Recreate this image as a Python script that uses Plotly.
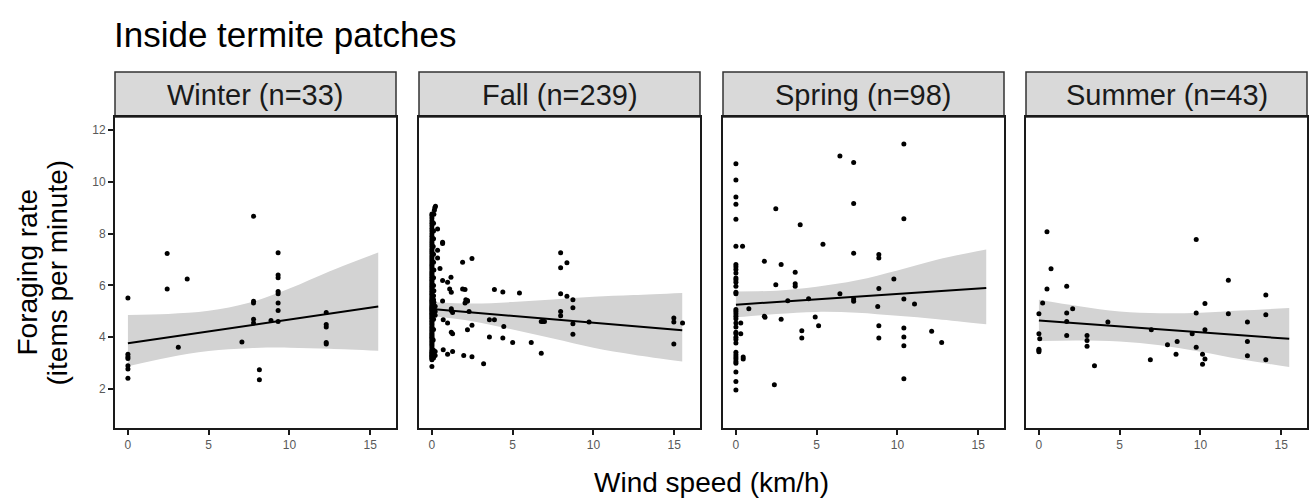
import plotly.graph_objects as go

# ---------------- data ----------------
panels = ["Winter (n=33)", "Fall (n=239)", "Spring (n=98)", "Summer (n=43)"]
title_text = "Inside termite patches"
x_title = "Wind speed (km/h)"
y_title_lines = ["Foraging rate", "(items per minute)"]
x_ticks = [0, 5, 10, 15]
y_ticks = [2, 4, 6, 8, 10, 12]

winter_pts = [(0, 5.52), (0, 3.35), (0, 3.25), (0, 3.18), (0, 2.9), (0, 2.78), (0, 2.42),
              (2.43, 7.23), (2.43, 5.86), (3.12, 3.62), (3.67, 6.25), (7.06, 3.82),
              (7.78, 8.67), (7.78, 5.39), (7.78, 5.32), (7.78, 4.70), (7.78, 4.55),
              (8.14, 2.75), (8.14, 2.36), (8.86, 4.65), (9.3, 7.26), (9.3, 6.4), (9.3, 6.3),
              (9.3, 5.77), (9.3, 5.68), (9.3, 5.32), (9.3, 5.03), (9.3, 4.61),
              (12.28, 4.96), (12.28, 4.49), (12.28, 4.4), (12.28, 3.8), (12.28, 3.74)]

fall_zero_y = [2.87, 3.13, 3.18, 3.22, 3.27, 3.3, 3.34, 3.38, 3.42, 3.47, 3.52, 3.6, 3.66,
               3.72, 3.78, 3.84, 3.9, 3.95, 4.0, 4.05, 4.1, 4.15, 4.2, 4.26, 4.32, 4.38,
               4.44, 4.5, 4.56, 4.62, 4.68, 4.73, 4.78, 4.83, 4.88, 4.93, 4.98, 5.02,
               5.06, 5.1, 5.14, 5.18, 5.23, 5.28, 5.33, 5.38, 5.43, 5.48, 5.54, 5.6,
               5.66, 5.72, 5.78, 5.84, 5.9, 5.96, 6.02, 6.08, 6.14, 6.2, 6.26, 6.32,
               6.38, 6.44, 6.5, 6.57, 6.64, 6.71, 6.78, 6.85, 6.92, 7.0, 7.08, 7.16,
               7.24, 7.32, 7.4, 7.48, 7.56, 7.64, 7.72, 7.8, 7.9, 8.0, 8.1, 8.2, 8.3,
               8.4, 8.5, 8.6, 8.7, 8.76]
fall_near_zero = [(0.1, 3.2), (0.1, 3.3), (0.12, 3.4), (0.1, 3.5), (0.08, 3.9), (0.1, 4.3),
                  (0.1, 4.7), (0.12, 4.95), (0.1, 5.05), (0.15, 5.15), (0.1, 5.25),
                  (0.12, 5.35), (0.1, 5.45), (0.1, 5.6), (0.12, 5.8), (0.1, 6.0),
                  (0.1, 6.3), (0.12, 6.6), (0.1, 6.9), (0.1, 7.2), (0.08, 7.5), (0.1, 7.8),
                  (0.1, 8.1), (0.1, 8.4), (0.12, 8.75), (0.15, 8.9), (0.18, 9.0),
                  (0.22, 9.06), (0.2, 3.3), (0.2, 3.45), (0.2, 5.0), (0.2, 5.2), (0.2, 4.85)]
fall_pts = [(0.35, 8.18), (0.66, 7.67), (0.66, 7.62), (0.35, 7.36), (0.35, 7.06), (0.5, 6.65),
            (0.66, 6.19), (0.97, 6.12), (1.18, 6.32), (1.1, 5.86), (1.2, 5.74), (0.66, 5.4),
            (1.2, 5.1), (1.2, 5.03), (1.28, 4.96), (0.7, 4.68), (0.97, 4.55), (1.2, 4.19),
            (1.28, 4.14), (0.7, 3.52), (0.97, 3.35), (1.28, 3.45), (1.9, 6.9), (2.48, 7.04),
            (1.9, 5.86), (2.05, 5.84), (2.1, 5.45), (2.2, 5.39), (2.05, 5.32), (2.2, 5.42),
            (2.3, 5.0), (2.2, 4.29), (2.48, 4.46), (1.97, 3.3), (2.48, 3.25), (3.2, 2.98),
            (3.56, 4.68), (3.87, 4.68), (3.87, 5.84), (4.39, 5.75), (4.45, 4.42), (3.56, 4.01),
            (4.39, 3.97), (5.0, 3.8), (5.42, 5.71), (6.15, 3.8), (6.77, 4.61), (6.87, 4.61),
            (6.97, 4.61), (6.77, 3.38), (7.97, 7.26), (7.97, 6.68), (8.36, 6.88), (7.97, 5.68),
            (8.36, 5.58), (8.73, 5.45), (8.73, 5.14), (7.97, 5.0), (7.97, 4.83), (8.73, 4.52),
            (8.73, 4.12), (9.73, 4.59), (14.98, 4.74), (14.98, 4.59), (15.52, 4.55),
            (14.98, 3.74)]

spring_pts = [(0, 10.7), (0, 10.07), (0, 9.41), (0, 9.13), (0, 8.55), (0, 7.51), (0.41, 7.51),
              (0, 6.81), (0, 6.72), (0, 6.62), (0, 6.48), (0, 6.29), (0, 6.22), (0, 6.12),
              (0, 5.97), (0, 5.74), (0, 5.68), (0, 5.07), (0, 5.0), (0, 4.91), (0, 4.81),
              (0, 4.72), (0, 4.55), (0.3, 4.55), (0, 4.4), (0, 4.19), (0, 4.14), (0.3, 4.14),
              (0, 4.0), (0, 3.91), (0, 3.78), (0, 3.42), (0, 3.33), (0, 3.24), (0.45, 3.24),
              (0, 3.16), (0.45, 3.16), (0, 3.07), (0, 3.0), (0, 2.66), (0, 2.29), (0, 1.97),
              (0.8, 5.1), (1.76, 6.93), (1.76, 4.81), (1.8, 4.77), (2.47, 8.96), (2.47, 6.03),
              (2.38, 2.17), (2.8, 6.81), (2.8, 4.70), (3.21, 5.41), (3.67, 6.51), (3.67, 6.07),
              (3.67, 5.97), (3.98, 8.34), (4.08, 4.25), (4.08, 3.97), (4.5, 5.49), (4.91, 4.78),
              (5.12, 4.45), (5.39, 7.59), (6.44, 11.0), (6.44, 5.68), (7.29, 10.74),
              (7.29, 9.16), (7.29, 7.24), (7.29, 5.48), (7.29, 5.39), (8.85, 7.19),
              (8.85, 7.06), (8.85, 5.88), (8.78, 5.19), (8.85, 4.45), (8.85, 3.97),
              (9.78, 6.25), (10.4, 11.46), (10.4, 8.57), (10.4, 5.48), (10.4, 4.36),
              (10.4, 4.01), (10.4, 3.67), (10.4, 2.4), (11.06, 5.28), (12.12, 4.23),
              (12.74, 3.8)]

summer_pts = [(0.5, 8.07), (0.75, 6.64), (0.5, 5.86), (0.23, 5.32), (0, 4.91), (0, 4.14),
              (0.05, 3.94), (0, 3.54), (0, 3.49), (0, 3.44), (1.72, 5.97), (1.72, 4.94),
              (1.72, 4.61), (1.72, 4.07), (2.09, 5.1), (2.98, 4.07), (2.98, 3.88), (2.98, 3.65),
              (3.44, 2.9), (4.27, 4.59), (6.96, 4.29), (6.9, 3.13), (7.96, 3.71), (8.56, 3.84),
              (8.49, 3.35), (9.49, 4.14), (9.74, 7.77), (9.74, 4.94), (9.74, 3.62),
              (10.13, 3.35), (10.28, 3.16), (10.13, 2.96), (10.28, 5.3), (10.28, 4.29),
              (11.73, 6.2), (11.73, 4.91), (12.91, 4.59), (12.91, 3.84), (12.91, 3.29),
              (14.05, 5.63), (14.05, 4.87), (14.05, 3.13)]

# fitted lines and 95% bands at these wind speeds
fit_x = [0, 2.5, 5, 7.5, 10, 12.5, 15.5]
winter_fit = [3.77, 4.0, 4.23, 4.45, 4.68, 4.91, 5.19]
winter_hi = [4.86, 4.9, 5.02, 5.33, 5.88, 6.55, 7.27]
winter_lo = [2.88, 3.22, 3.47, 3.58, 3.6, 3.56, 3.48]
fall_fit = [5.09, 4.96, 4.83, 4.69, 4.56, 4.43, 4.27]
fall_hi = [5.36, 5.3, 5.36, 5.46, 5.56, 5.63, 5.71]
fall_lo = [4.82, 4.62, 4.3, 3.95, 3.6, 3.33, 3.07]
spring_fit = [5.26, 5.36, 5.47, 5.57, 5.67, 5.78, 5.9]
spring_hi = [5.77, 5.8, 5.95, 6.2, 6.58, 7.0, 7.39]
spring_lo = [4.77, 4.9, 4.98, 4.95, 4.83, 4.7, 4.5]
summer_fit = [4.65, 4.54, 4.42, 4.31, 4.19, 4.08, 3.94]
summer_hi = [5.45, 5.2, 5.0, 4.93, 4.95, 5.03, 5.13]
summer_lo = [3.86, 3.88, 3.84, 3.69, 3.44, 3.15, 2.85]

# ---------------- figure ----------------
W, H = 1314, 499
FONT = "Liberation Sans, Arial, Helvetica, sans-serif"

fall_all = [(0, y) for y in fall_zero_y] + fall_near_zero + fall_pts
series = [
    (winter_pts, winter_fit, winter_lo, winter_hi),
    (fall_all, fall_fit, fall_lo, fall_hi),
    (spring_pts, spring_fit, spring_lo, spring_hi),
    (summer_pts, summer_fit, summer_lo, summer_hi),
]

# panel pixel extents
px_left = [115, 419, 723, 1026]
px_width = 281
py_top, py_bottom = 117, 428
strip_top = 72

fig = go.Figure()
for i, (pts, fit, lo, hi) in enumerate(series):
    k = "" if i == 0 else str(i + 1)
    xa, ya = "x" + k, "y" + k
    fig.add_trace(go.Scatter(x=fit_x, y=hi, xaxis=xa, yaxis=ya, mode="lines",
                             line=dict(width=0, shape="spline"), hoverinfo="skip",
                             showlegend=False))
    fig.add_trace(go.Scatter(x=fit_x, y=lo, xaxis=xa, yaxis=ya, mode="lines",
                             line=dict(width=0, shape="spline"), fill="tonexty",
                             fillcolor="rgb(211,211,211)", hoverinfo="skip", showlegend=False))
    xs = [p[0] for p in pts]
    ys = [p[1] for p in pts]
    fig.add_trace(go.Scatter(x=xs, y=ys, xaxis=xa, yaxis=ya, mode="markers",
                             marker=dict(color="black", size=5), showlegend=False))
    fig.add_trace(go.Scatter(x=fit_x, y=fit, xaxis=xa, yaxis=ya, mode="lines",
                             line=dict(color="black", width=2), showlegend=False))

    d0 = px_left[i] / W
    d1 = (px_left[i] + px_width) / W
    fig.layout["xaxis" + k] = dict(
        domain=[d0, d1], range=[-0.8, 16.6], anchor=ya, tickvals=x_ticks,
        ticks="outside", ticklen=5, tickwidth=2, tickcolor="#1a1a1a",
        showline=True, mirror=True, linecolor="#1a1a1a", linewidth=2,
        showgrid=False, zeroline=False,
        tickfont=dict(size=12, color="#595959", family=FONT))
    fig.layout["yaxis" + k] = dict(
        domain=[1 - py_bottom / H, 1 - py_top / H], range=[0.5, 12.5], anchor=xa,
        tickvals=y_ticks, ticks="outside" if i == 0 else "", ticklen=5, tickwidth=2,
        tickcolor="#1a1a1a", showticklabels=(i == 0),
        showline=True, mirror=True, linecolor="#1a1a1a", linewidth=2,
        showgrid=False, zeroline=False,
        tickfont=dict(size=12, color="#595959", family=FONT))

    # strip
    fig.add_shape(type="rect", xref="paper", yref="paper",
                  x0=d0, x1=d1, y0=1 - py_top / H, y1=1 - strip_top / H,
                  fillcolor="#d9d9d9", line=dict(color="#333333", width=1.5), layer="below")
    fig.add_annotation(text=panels[i], xref="paper", yref="paper",
                       x=(d0 + d1) / 2, y=1 - (py_top + strip_top) / 2 / H,
                       showarrow=False, xanchor="center", yanchor="middle",
                       font=dict(size=29, color="#1a1a1a", family=FONT))

fig.add_annotation(text=title_text, xref="paper", yref="paper", x=112 / W, y=1 - 35 / H,
                   xanchor="left", yanchor="middle", showarrow=False,
                   font=dict(size=35, color="#000000", family=FONT))
fig.add_annotation(text=x_title, xref="paper", yref="paper",
                   x=(115 + 1307) / 2 / W, y=1 - 482 / H, xanchor="center", yanchor="middle",
                   showarrow=False, font=dict(size=28, color="#000000", family=FONT))
for line_text, cx in zip(y_title_lines, [27, 57]):
    fig.add_annotation(text=line_text, xref="paper", yref="paper", x=cx / W,
                       y=1 - (py_top + py_bottom) / 2 / H, xanchor="center", yanchor="middle",
                       textangle=-90, showarrow=False,
                       font=dict(size=28, color="#000000", family=FONT))

fig.update_layout(width=W, height=H, margin=dict(l=0, r=0, t=0, b=0),
                  paper_bgcolor="white", plot_bgcolor="white", showlegend=False)

fig.write_html("out.html", config={"displayModeBar": False},
               post_script="document.body.style.margin='0';"
                           "document.body.style.overflow='hidden';")
